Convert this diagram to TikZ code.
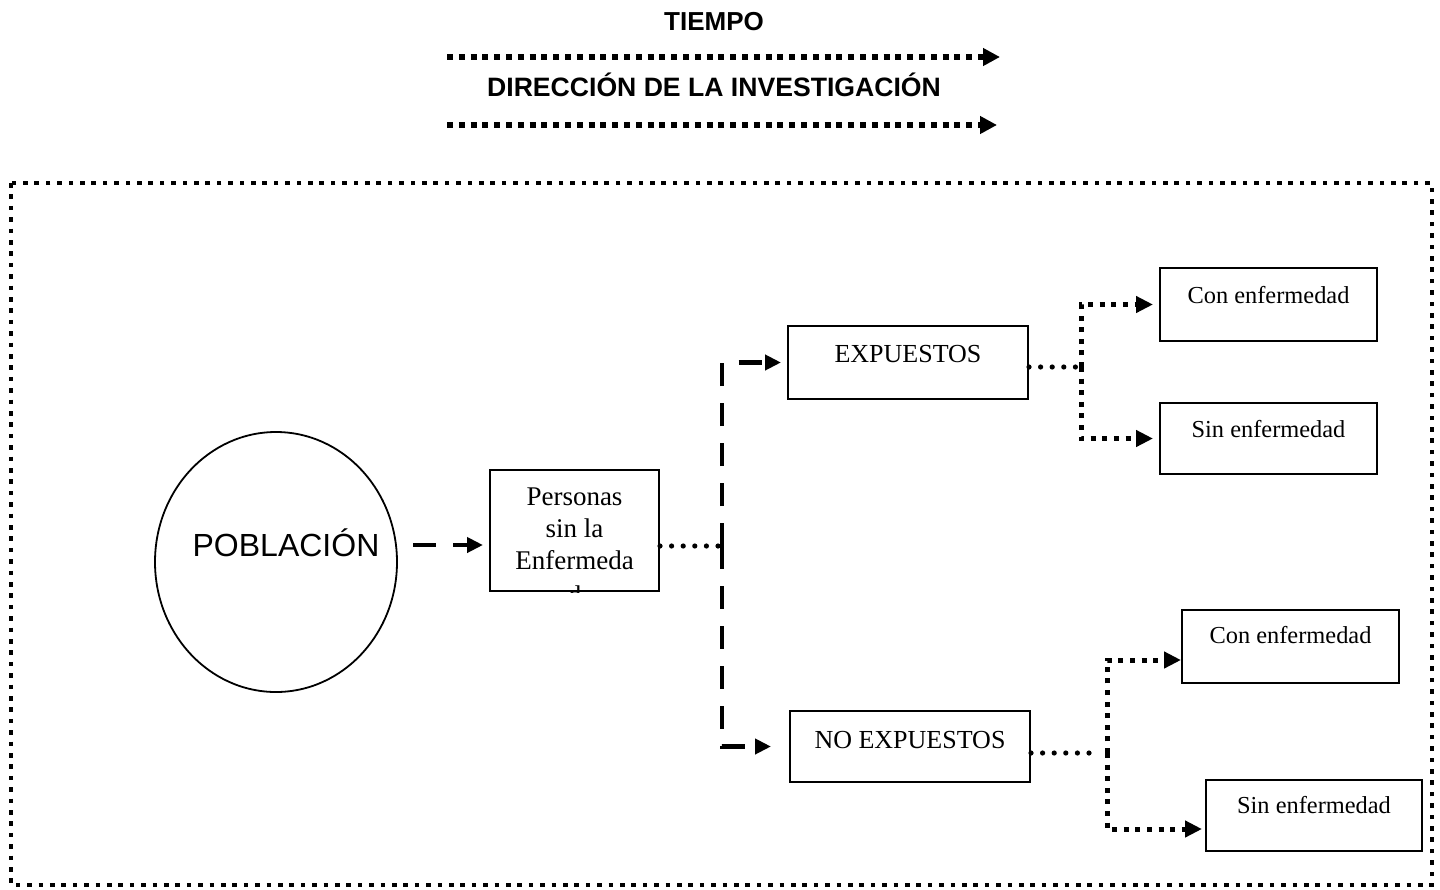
\documentclass[tikz,border=0pt]{standalone}
\usepackage{fontspec}
\setmainfont{Liberation Serif}
\newfontfamily\arialfont{Liberation Sans}
\usetikzlibrary{arrows.meta,shapes.geometric}

\begin{document}
\begin{tikzpicture}[x=0.5pt, y=-0.5pt,
  box/.style={draw, line width=1pt, inner sep=0pt, font=\fontsize{12.2}{14}\selectfont},
  bigbox/.style={box, font=\fontsize{13}{15}\selectfont},
  framedots/.style={line width=2.3pt, dash pattern=on 2.3pt off 3.4pt},
  toparrow/.style={line width=3pt, dash pattern=on 3pt off 2.9pt, -{Triangle[length=8.5pt,width=8.5pt]}},
  sqarrow/.style={line width=2.5pt, dash pattern=on 2.5pt off 3.3pt, -{Triangle[length=8.5pt,width=8pt]}},
  dotline/.style={line width=2.6pt, line cap=round, dash pattern=on 0pt off 5.8pt},
  dasharrow/.style={line width=2.2pt, dash pattern=on 11.5pt off 8.5pt, -{Triangle[length=8pt,width=7.5pt]}, shorten >=3pt}]
\useasboundingbox (0,0) rectangle (1440,889);
%titles
\node (tiempo) at (714,22) {\arialfont\bfseries\fontsize{13}{15}\selectfont TIEMPO};
\node (direc) at (714,85) {\arialfont\bfseries\fontsize{13.3}{15}\selectfont DIRECCIÓN DE LA INVESTIGACIÓN};
\coordinate (t1) at (447,57);
\coordinate (t2) at (447,125);
\draw[toparrow] (t1) -- ++(553,0);
\draw[toparrow] (t2) -- ++(550,0);
%frame
\draw[framedots] (11,183) rectangle (1432,885);
%population
\node (pob) [draw, ellipse, line width=0.9pt, minimum width=121pt, minimum height=130pt,
  label={[font=\arialfont\fontsize{16}{19}\selectfont, xshift=5pt, yshift=9.5pt]center:POBLACIÓN}] at (276,562) {};
\node (pers) [box, minimum width=84.5pt, minimum height=60.5pt] at (574.5,530.5) {};
\begin{scope}
\clip (pers.south west) rectangle (pers.north east);
\node [anchor=north, inner sep=0pt, align=center, font=\fontsize{13.5}{16}\selectfont] at (574.5,487) {Personas\\sin la\\Enfermeda\\[1.5pt]d};
\end{scope}
%exposure boxes
\node (expu) [bigbox, minimum width=120pt, text height=18pt, text depth=18.5pt] at (908,362.5) {EXPUESTOS};
\node (noexp) [bigbox, minimum width=120pt, text height=18.5pt, text depth=17pt] at (910,746.5) {NO EXPUESTOS};
%outcome boxes
\node (con1) [box, minimum width=108.5pt, text height=17.5pt, text depth=19pt] at (1268.5,304.5) {Con enfermedad};
\node (sin1) [box, minimum width=108.5pt, text height=17pt, text depth=18.5pt] at (1268.5,438.5) {Sin enfermedad};
\node (con2) [box, minimum width=108.5pt, text height=16.5pt, text depth=20pt] at (1290.5,646.5) {Con enfermedad};
\node (sin2) [box, minimum width=108pt, text height=16.5pt, text depth=19pt] at (1314,815.5) {Sin enfermedad};
%connectors
\coordinate (p1) at (413,545);
\draw[dasharrow] (p1) -- (p1 -| pers.west);
\coordinate (jn) at (722,546);
\draw[dotline] (pers.east |- jn) -- (jn);
\draw[dasharrow] (jn) |- (expu.west);
\draw[dasharrow, shorten >=9pt] (jn) |- (noexp.west);
\coordinate (j1) at (1081,367);
\draw[dotline] (expu.east |- j1) -- (j1);
\draw[sqarrow, shorten >=3pt] (j1) |- (con1.west);
\draw[sqarrow, shorten >=3pt] (j1) |- (sin1.west);
\coordinate (j2) at (1107,753);
\draw[dotline] (noexp.east |- j2) -- ([xshift=-8.5pt]j2);
\draw[sqarrow] (j2) |- ([yshift=-6.75pt]con2.west);
\draw[sqarrow, shorten >=1.5pt] (j2) |- ([yshift=-6.75pt]sin2.west);
\end{tikzpicture}
\end{document}
